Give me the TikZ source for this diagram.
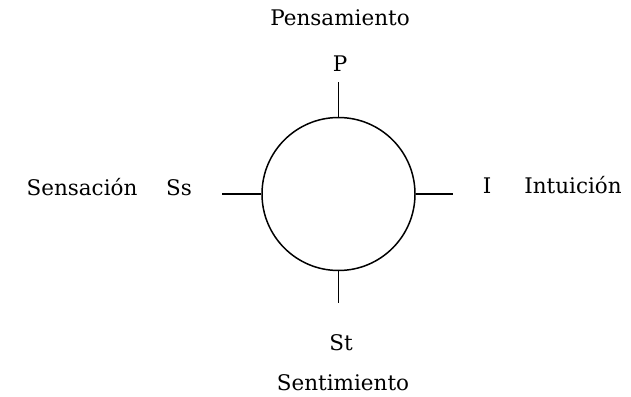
\documentclass[tikz,border=0pt]{standalone}
\usepackage{fontspec}
\usepackage{tikz}
\usetikzlibrary{positioning}
\newfontfamily\labelfont{DejaVu Serif}
\tikzset{
  polebox/.style={
    circle,
    draw=black,
    line width=1.5pt,
    minimum size=153pt,
    inner sep=0pt
  },
  poletick/.style={
    line width=1.5pt
  },
  polelabel/.style={
    anchor=base,
    font=\labelfont\fontsize{21.5}{26}\selectfont,
    inner sep=0pt
  }
}
\begin{document}
\begin{tikzpicture}[x=1pt,y=-1pt]
  \useasboundingbox (0,0) rectangle (631,396);
  \node[polebox] (psique) at (338.5,194) {};
  \coordinate (tickP)  at (338.5,82);
  \coordinate (tickSt) at (338.5,303);
  \coordinate (tickSs) at (222,194);
  \coordinate (tickI)  at (453,194);
  \draw[poletick] (psique.north) -- (tickP);
  \draw[poletick] (psique.south) -- (tickSt);
  \draw[poletick] (psique.west)  -- (tickSs);
  \draw[poletick] (psique.east)  -- (tickI);
  \node[polelabel] (pensamiento) at (340,26)  {Pensamiento};
  \node[polelabel] (p)           at (340,71)  {P};
  \node[polelabel] (st)          at (341,350) {St};
  \node[polelabel] (sentimiento) at (343,390) {Sentimiento};
  \node[polelabel] (sensacion)   at (82,195)  {Sensación};
  \node[polelabel] (ss)          at (179,195) {Ss};
  \node[polelabel] (i)           at (487,193) {I};
  \node[polelabel] (intuicion)   at (573,193) {Intuición};
\end{tikzpicture}
\end{document}
